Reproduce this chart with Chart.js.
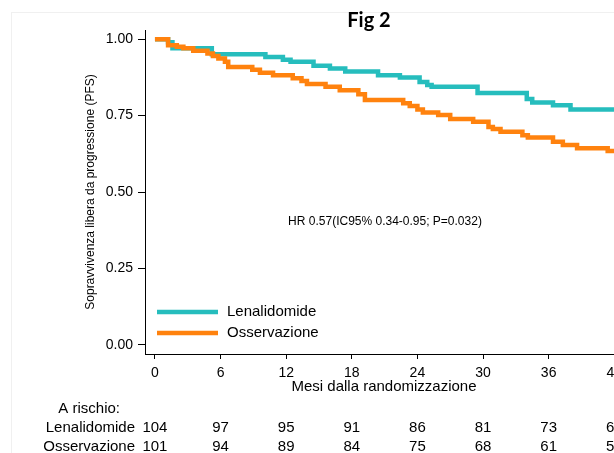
<!DOCTYPE html>
<html>
<head>
<meta charset="utf-8">
<script src="https://cdn.jsdelivr.net/npm/chart.js@4/dist/chart.umd.min.js"></script>
<style>
  html, body { margin: 0; padding: 0; background: #fff; overflow: hidden; }
  #frame { position: absolute; left: 11px; top: 12px; width: 700px; height: 500px;
           border-left: 1px solid #f0f0f0; border-top: 1px solid #f0f0f0; }
  #wrap { position: absolute; left: 0; top: 0; width: 640px; height: 453px; }
</style>
</head>
<body>
<div id="frame"></div>
<div id="wrap"><canvas id="myChart"></canvas></div>
<script>
// Kaplan-Meier steps (months, PFS)
const lenaTimes = [0, 1.2, 1.6, 5.2, 10.1, 11.7, 12.4, 14.5, 16.0, 17.4, 20.4, 22.4, 24.2, 24.9, 25.3, 29.5, 34.0, 34.5, 36.4, 38.0, 42];
const lenaSurv  = [1, 0.99, 0.97, 0.951, 0.942, 0.933, 0.926, 0.913, 0.904, 0.894, 0.882, 0.875, 0.860, 0.850, 0.844, 0.824, 0.804, 0.793, 0.784, 0.770, 0.770];

const obsTimes = [0, 1.2, 2.0, 2.6, 3.5, 4.8, 5.3, 5.8, 6.4, 6.7, 8.9, 9.6, 10.8, 12.6, 13.4, 13.9, 15.6, 16.9, 18.6, 19.2, 22.7, 23.3, 24.0, 24.5, 25.9, 27.0, 29.1, 30.5, 30.9, 31.6, 33.6, 34.1, 36.4, 37.3, 38.6, 41.4, 42];
const obsSurv  = [1, 0.980, 0.975, 0.970, 0.962, 0.953, 0.945, 0.937, 0.926, 0.909, 0.900, 0.890, 0.882, 0.872, 0.863, 0.853, 0.844, 0.833, 0.820, 0.801, 0.790, 0.781, 0.770, 0.760, 0.752, 0.739, 0.730, 0.713, 0.706, 0.697, 0.686, 0.678, 0.664, 0.654, 0.643, 0.634, 0.634];

const xTicks = [0, 6, 12, 18, 24, 30, 36, 42];
const yTicks = [0, 0.25, 0.5, 0.75, 1];

// numbers at risk (last column is cut off in the figure)
const lenaRisk = [104, 97, 95, 91, 86, 81, 73, 64];
const obsRisk  = [101, 94, 89, 84, 75, 68, 61, 53];

const teal = '#26bdbd';
const orange = '#ff820e';
const font = '"Liberation Sans", Arial, sans-serif';

const toPoints = (t, s) => t.map((v, i) => ({ x: v, y: s[i] }));

const overlay = {
  id: 'overlay',
  afterDraw(chart) {
    const c = chart.ctx;
    const x = chart.scales.x;
    c.save();
    c.fillStyle = '#000';

    // title
    c.font = 'bold 20px Lato, sans-serif';
    c.textAlign = 'center';
    c.textBaseline = 'alphabetic';
    c.fillText('Fig 2', 369, 27);

    // hazard ratio note
    c.font = '12px ' + font;
    c.textBaseline = 'middle';
    c.fillText('HR 0.57(IC95% 0.34-0.95; P=0.032)', 385, 222);

    // legend inside the plot
    const rows = [312, 333];
    c.font = '15px ' + font;
    c.textAlign = 'left';
    chart.data.datasets.forEach((ds, i) => {
      c.strokeStyle = ds.borderColor;
      c.lineWidth = 4.5;
      c.beginPath();
      c.moveTo(157, rows[i]);
      c.lineTo(218, rows[i]);
      c.stroke();
      c.fillText(ds.label, 227, rows[i]);
    });

    // risk table
    c.textAlign = 'right';
    c.fillText('A rischio:', 120, 409);
    c.fillText('Lenalidomide', 135, 428);
    c.fillText('Osservazione', 135, 447);
    c.textAlign = 'center';
    xTicks.forEach((t, i) => {
      const px = x.getPixelForValue(t);
      c.fillText(String(lenaRisk[i]), px, 428);
      c.fillText(String(obsRisk[i]), px, 447);
    });
    c.restore();
  }
};

const ctx = document.getElementById('myChart').getContext('2d');

new Chart(ctx, {
  type: 'line',
  data: {
    datasets: [{
      label: 'Lenalidomide',
      data: toPoints(lenaTimes, lenaSurv),
      borderColor: teal,
      borderWidth: 4.5,
      stepped: true,
      pointRadius: 0,
      fill: false,
      order: 1
    }, {
      label: 'Osservazione',
      data: toPoints(obsTimes, obsSurv),
      borderColor: orange,
      borderWidth: 4.5,
      stepped: true,
      pointRadius: 0,
      fill: false,
      order: 0
    }]
  },
  options: {
    responsive: true,
    maintainAspectRatio: false,
    animation: false,
    layout: { padding: { left: 79, top: 30, right: 17, bottom: 57 } },
    plugins: {
      legend: { display: false },
      title: { display: false },
      tooltip: { enabled: false }
    },
    scales: {
      x: {
        type: 'linear',
        min: -0.91,
        max: 42.8,
        afterBuildTicks: s => { s.ticks = xTicks.map(v => ({ value: v })); },
        afterFit: s => { s.height = 42; },
        grid: { drawOnChartArea: false, drawTicks: true, tickLength: 5, color: '#000' },
        border: { color: '#000', width: 1 },
        ticks: { color: '#000', font: { family: font, size: 14 }, padding: 6, maxRotation: 0, autoSkip: false },
        title: {
          display: true,
          text: 'Mesi dalla randomizzazione',
          color: '#000',
          font: { family: font, size: 15 },
          padding: { top: 0, bottom: 0 }
        }
      },
      y: {
        min: -0.03,
        max: 1.03,
        afterBuildTicks: s => { s.ticks = yTicks.map(v => ({ value: v })); },
        afterFit: s => { s.width = 66; },
        grid: { drawOnChartArea: false, drawTicks: true, tickLength: 7, color: '#000' },
        border: { color: '#000', width: 1 },
        ticks: { color: '#000', font: { family: font, size: 14 }, padding: 5, callback: v => v.toFixed(2) },
        title: {
          display: true,
          text: 'Sopravvivenza libera da progressione (PFS)',
          color: '#000',
          font: { family: font, size: 12 },
          padding: { top: 4, bottom: 0 }
        }
      }
    }
  },
  plugins: [overlay]
});
</script>
</body>
</html>
